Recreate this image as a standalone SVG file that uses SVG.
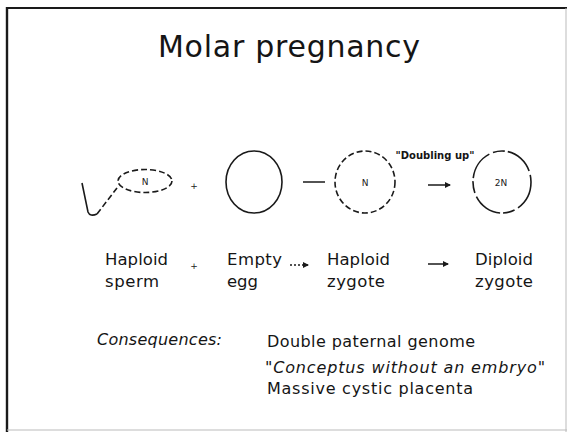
<svg xmlns="http://www.w3.org/2000/svg" width="567" height="432" viewBox="0 0 567 432">
  <style>
    .t { font-family: "DejaVu Sans", "Liberation Sans", sans-serif; fill: #151515; }
    .title { font-size: 30px; }
    .lbl { font-size: 16.5px; }
    .cons { font-size: 16px; font-style: italic; }
    .body { font-size: 16px; }
    .small { font-size: 9px; fill: #222222; }
    .tiny { font-size: 10px; font-weight: bold; }
    .cell { fill: none; stroke: #1a1a1a; stroke-width: 1.6; }
    .dashed { stroke-dasharray: 6 3; }
    .conn { fill: none; stroke: #1a1a1a; stroke-width: 1.5; }
  </style>
  <defs>
    <marker id="head" viewBox="0 0 6 6" refX="5" refY="3" markerWidth="4" markerHeight="4" orient="auto">
      <path d="M0,0 L6,3 L0,6 Z" fill="#1a1a1a"/>
    </marker>
  </defs>

  <rect width="567" height="432" fill="#ffffff"/>

  <!-- slide frame -->
  <g id="frame">
    <line x1="6" y1="8" x2="567" y2="8" stroke="#1a1a1a" stroke-width="2"/>
    <line x1="7" y1="7" x2="7" y2="432" stroke="#1a1a1a" stroke-width="2.4"/>
    <line x1="566" y1="8" x2="566" y2="432" stroke="#bbbbbb" stroke-width="1"/>
    <line x1="7" y1="430" x2="567" y2="430" stroke="#bbbbbb" stroke-width="1"/>
  </g>

  <text id="title" class="t title" x="158" y="57" textLength="262">Molar pregnancy</text>

  <!-- haploid sperm -->
  <g id="sperm">
    <ellipse class="cell dashed" cx="145" cy="181" rx="27" ry="11.5"/>
    <path class="cell" d="M82,183 L88,212 Q90,217 97,214"/>
    <path class="cell dashed" d="M97,214 L117,188" stroke-dasharray="4 3"/>
    <text class="t small" x="145" y="185" text-anchor="middle">N</text>
    <text class="t lbl" x="105" y="265" textLength="63">Haploid</text>
    <text class="t lbl" x="105" y="287" textLength="54">sperm</text>
  </g>

  <text id="plus-top" class="t small" x="194" y="189" text-anchor="middle">+</text>
  <text id="plus-bottom" class="t small" x="194" y="269" text-anchor="middle">+</text>

  <!-- empty egg -->
  <g id="egg">
    <ellipse class="cell" cx="254" cy="182" rx="28" ry="31"/>
    <text class="t lbl" x="227" y="265" textLength="55">Empty</text>
    <text class="t lbl" x="227" y="287" textLength="31">egg</text>
  </g>

  <!-- haploid zygote -->
  <g id="haploid-zygote">
    <ellipse class="cell dashed" cx="365" cy="182" rx="30" ry="31" stroke-dasharray="9 4"/>
    <text class="t small" x="365" y="186" text-anchor="middle">N</text>
    <text class="t lbl" x="327" y="265" textLength="63">Haploid</text>
    <text class="t lbl" x="327" y="287" textLength="58">zygote</text>
  </g>

  <!-- diploid zygote -->
  <g id="diploid-zygote">
    <ellipse class="cell" cx="502" cy="182" rx="29" ry="31" stroke-dasharray="30 4 12 3"/>
    <text class="t small" x="501" y="186" text-anchor="middle">2N</text>
    <text class="t lbl" x="475" y="265" textLength="58">Diploid</text>
    <text class="t lbl" x="475" y="287" textLength="58">zygote</text>
  </g>

  <text id="doubling" class="t tiny" x="435" y="159" text-anchor="middle">"Doubling up"</text>

  <!-- connectors -->
  <g id="connectors">
    <line class="conn" x1="303" y1="182" x2="325" y2="182"/>
    <line class="conn" x1="428" y1="185" x2="450" y2="185" marker-end="url(#head)"/>
    <line class="conn" x1="290" y1="265" x2="308" y2="265" stroke-dasharray="2 2" marker-end="url(#head)"/>
    <line class="conn" x1="428" y1="264" x2="448" y2="264" marker-end="url(#head)"/>
  </g>

  <!-- consequences -->
  <g id="consequences">
    <text class="t cons" x="97" y="345" textLength="125">Consequences:</text>
    <text class="t body" x="267" y="347" textLength="208">Double paternal genome</text>
    <text class="t cons" x="265" y="373" textLength="280">"Conceptus without an embryo"</text>
    <text class="t body" x="267" y="394" textLength="206">Massive cystic placenta</text>
  </g>
</svg>
